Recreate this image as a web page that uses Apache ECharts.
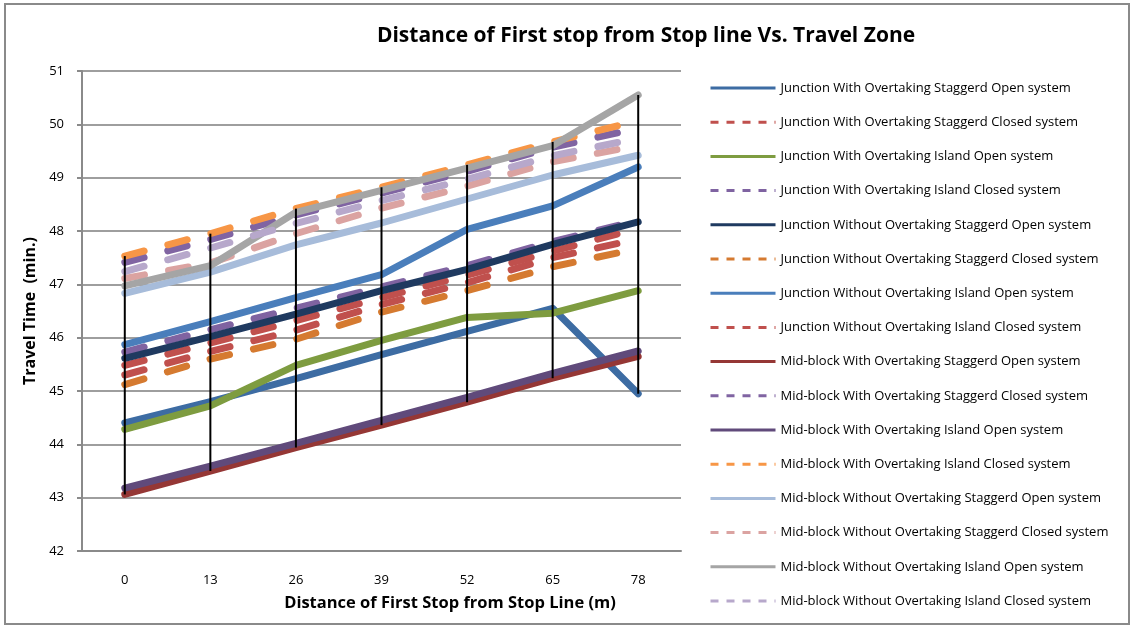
<!DOCTYPE html>
<html>
<head>
<meta charset="utf-8">
<script src="https://cdn.jsdelivr.net/npm/echarts@6/dist/echarts.min.js"></script>
<style>
  html, body { margin: 0; padding: 0; background: #fff; }
  #chart { width: 1132px; height: 626px; }
</style>
</head>
<body>
<div id="chart"></div>
<script>
// ---- Data ----
const categories = ['0', '13', '26', '39', '52', '65', '78'];
const yTicks = { min: 42, max: 51, interval: 1 };

const jWithStagOpen     = [44.40, 44.80, 45.23, 45.68, 46.12, 46.55, 44.95];
const jWithStagClosed   = [45.48, 45.90, 46.32, 46.75, 47.17, 47.62, 48.05];
const jWithIslOpen      = [44.28, 44.72, 45.48, 45.95, 46.38, 46.46, 46.88];
const jWithIslClosed    = [45.73, 46.15, 46.55, 46.95, 47.35, 47.80, 48.20];
const jWoStagOpen       = [45.61, 46.02, 46.44, 46.88, 47.28, 47.75, 48.17];
const jWoStagClosed     = [45.12, 45.60, 45.97, 46.48, 46.88, 47.33, 47.67];
const jWoIslOpen        = [45.87, 46.30, 46.75, 47.18, 48.03, 48.47, 49.20];
const jWoIslClosed      = [45.30, 45.74, 46.14, 46.62, 47.03, 47.50, 47.85];
const mWithStagOpen     = [43.06, 43.50, 43.94, 44.36, 44.79, 45.24, 45.65];
const mWithStagClosed   = [47.41, 47.84, 48.30, 48.71, 49.12, 49.57, 49.93];
const mWithIslOpen      = [43.18, 43.59, 44.02, 44.45, 44.88, 45.33, 45.75];
const mWithIslClosed    = [47.53, 47.95, 48.42, 48.82, 49.24, 49.67, 50.07];
const mWoStagOpen       = [46.83, 47.23, 47.74, 48.15, 48.60, 49.05, 49.42];
const mWoStagClosed     = [47.11, 47.40, 47.95, 48.43, 48.84, 49.30, 49.60];
const mWoIslOpen        = [46.97, 47.35, 48.35, 48.76, 49.18, 49.60, 50.55];
const mWoIslClosed      = [47.24, 47.68, 48.14, 48.57, 48.97, 49.41, 49.74];

const seriesDefs = [
  { name: 'Junction With Overtaking Staggerd Open system',      data: jWithStagOpen,   color: '#3D6CA3', dashed: false },
  { name: 'Junction With Overtaking Staggerd Closed system',    data: jWithStagClosed, color: '#C0504D', dashed: true },
  { name: 'Junction With Overtaking Island Open system',        data: jWithIslOpen,    color: '#7E9C40', dashed: false },
  { name: 'Junction With Overtaking Island Closed system',      data: jWithIslClosed,  color: '#7F63A1', dashed: true },
  { name: 'Junction Without Overtaking Staggerd Open system',   data: jWoStagOpen,     color: '#1F3A60', dashed: false },
  { name: 'Junction Without Overtaking Staggerd Closed system', data: jWoStagClosed,   color: '#D57A30', dashed: true },
  { name: 'Junction Without Overtaking Island Open system',     data: jWoIslOpen,      color: '#4A7EBB', dashed: false },
  { name: 'Junction Without Overtaking Island Closed system',   data: jWoIslClosed,    color: '#C0504D', dashed: true },
  { name: 'Mid-block With Overtaking Staggerd Open system',     data: mWithStagOpen,   color: '#953735', dashed: false },
  { name: 'Mid-block With Overtaking Staggerd Closed system',   data: mWithStagClosed, color: '#8064A2', dashed: true },
  { name: 'Mid-block With Overtaking Island Open system',       data: mWithIslOpen,    color: '#604A7B', dashed: false },
  { name: 'Mid-block With Overtaking Island Closed system',     data: mWithIslClosed,  color: '#F79646', dashed: true },
  { name: 'Mid-block Without Overtaking Staggerd Open system',  data: mWoStagOpen,     color: '#A7BCDA', dashed: false },
  { name: 'Mid-block Without Overtaking Staggerd Closed system',data: mWoStagClosed,   color: '#DBA3A1', dashed: true },
  { name: 'Mid-block Without Overtaking Island Open system',    data: mWoIslOpen,      color: '#A5A5A5', dashed: false },
  { name: 'Mid-block Without Overtaking Island Closed system',  data: mWoIslClosed,    color: '#B7A8CB', dashed: true }
];

// high-low lines built from the series values
const hiLow = categories.map((c, i) => {
  const vals = seriesDefs.map(s => s.data[i]);
  return [i, Math.min(...vals), Math.max(...vals)];
});

const FONT = '"Open Sans", Lato, sans-serif';

const series = seriesDefs.map(s => ({
  name: s.name,
  type: 'line',
  data: s.data,
  symbol: 'none',
  showSymbol: false,
  color: s.color,
  lineStyle: {
    color: s.color,
    width: 7,
    type: s.dashed ? [20, 24.5] : 'solid',
    cap: 'round',
    join: 'round'
  },
  emphasis: { disabled: true }
}));

series.push({
  name: 'hilo',
  type: 'custom',
  z: 5,
  data: hiLow,
  encode: { x: 0, y: [1, 2] },
  renderItem: function (params, api) {
    const p1 = api.coord([api.value(0), api.value(1)]);
    const p2 = api.coord([api.value(0), api.value(2)]);
    return {
      type: 'line',
      shape: { x1: p1[0], y1: p1[1], x2: p2[0], y2: p2[1] },
      style: { stroke: '#000', lineWidth: 2 }
    };
  }
});

const legendData = seriesDefs.map(s => ({
  name: s.name,
  itemStyle: { opacity: 0 },
  lineStyle: {
    color: s.color,
    width: 3,
    opacity: 1,
    type: s.dashed ? [8, 8] : 'solid',
    cap: 'butt'
  }
}));

const chart = echarts.init(document.getElementById('chart'), null, { renderer: 'canvas' });
chart.setOption({
  animation: false,
  backgroundColor: '#ffffff',
  title: {
    text: 'Distance of First stop from Stop line Vs. Travel Zone',
    left: 641,
    textAlign: 'center',
    top: 21,
    textStyle: { fontFamily: FONT, fontSize: 21, fontWeight: 'bold', color: '#000' }
  },
  graphic: [{
    type: 'rect',
    shape: { x: 5, y: 4, width: 1124, height: 620 },
    style: { fill: 'none', stroke: '#8A8A8A', lineWidth: 2 },
    silent: true
  }, {
    type: 'text',
    x: 450,
    y: 603,
    style: {
      text: 'Distance of First Stop from Stop Line (m)',
      font: 'bold 16.5px ' + FONT,
      fill: '#000',
      textAlign: 'center',
      textVerticalAlign: 'middle'
    },
    silent: true
  }],
  legend: {
    orient: 'vertical',
    left: 709,
    top: 81,
    padding: 0,
    itemWidth: 65,
    itemHeight: 14,
    itemGap: 20.2,
    data: legendData,
    textStyle: { fontFamily: FONT, fontSize: 13, color: '#000', lineHeight: 14 },
    selectedMode: false
  },
  grid: { left: 82, right: 451, top: 71, bottom: 75, containLabel: false },
  xAxis: {
    type: 'category',
    data: categories,
    boundaryGap: true,
    axisLine: { show: true, lineStyle: { color: '#8A8A8A', width: 2 } },
    axisTick: { show: false },
    axisLabel: { fontFamily: FONT, fontSize: 13, color: '#000', margin: 23 },
    splitLine: { show: false }
  },
  yAxis: {
    type: 'value',
    min: yTicks.min,
    max: yTicks.max,
    interval: yTicks.interval,
    name: 'Travel Time  (min.)',
    nameLocation: 'middle',
    nameGap: 42,
    nameTextStyle: { fontFamily: FONT, fontSize: 16, fontWeight: 'bold', color: '#000' },
    axisLine: { show: true, lineStyle: { color: '#8A8A8A', width: 2 } },
    axisTick: { show: true, inside: false, length: 5, lineStyle: { color: '#8A8A8A', width: 2 } },
    axisLabel: { fontFamily: FONT, fontSize: 13, color: '#000', margin: 18 },
    splitLine: { show: true, lineStyle: { color: '#9E9E9E', width: 2 } }
  },
  series: series
});
</script>
</body>
</html>
